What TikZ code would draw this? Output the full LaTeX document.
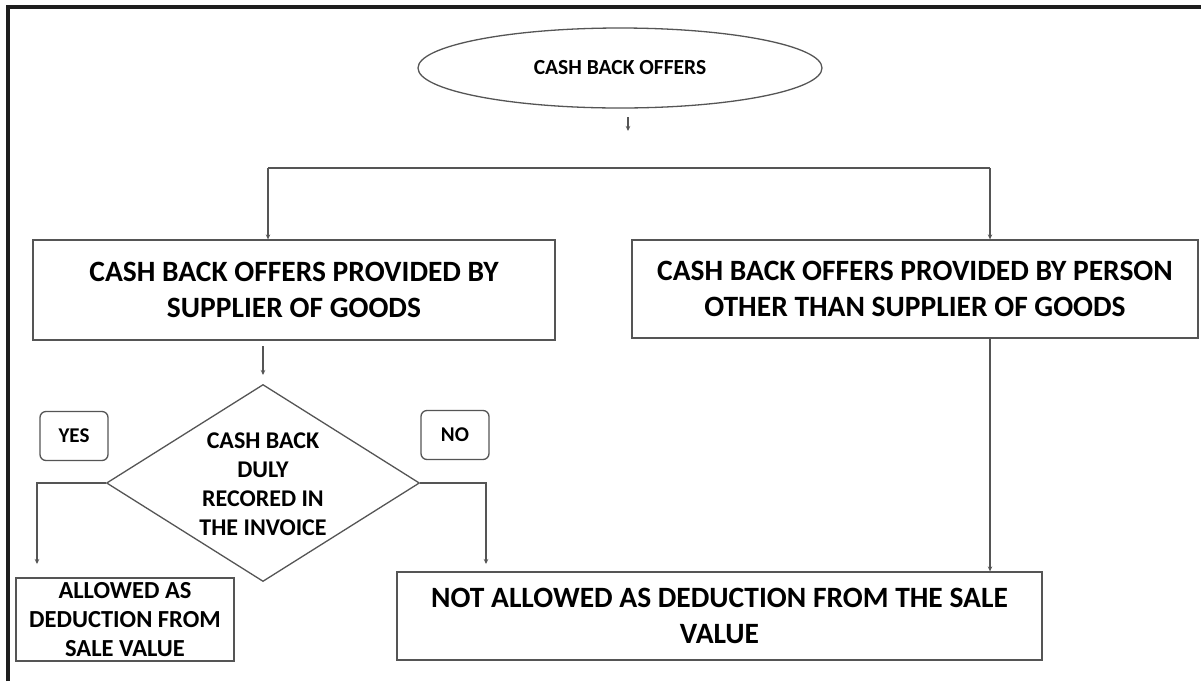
\documentclass[tikz,border=0pt]{standalone}
\usepackage{fontspec}
\setmainfont{Carlito}
\usetikzlibrary{shapes.geometric,arrows.meta}
\definecolor{ln}{HTML}{555555}
\definecolor{fr}{HTML}{1E1E1E}
\begin{document}
\begin{tikzpicture}[x=1pt,y=-1pt,
  boxnode/.style={draw=ln, line width=1.3pt, rectangle, inner sep=0pt, align=center, text=black},
  bigtext/.style={font=\bfseries\fontsize{29.5}{36}\selectfont},
  midtext/.style={font=\bfseries\fontsize{24}{29}\selectfont},
  tagbox/.style={draw=ln, line width=1.3pt, rounded corners=6pt, inner sep=0pt, minimum width=68pt, minimum height=49pt, font=\bfseries\fontsize{21}{24}\selectfont},
  conn/.style={draw=ln, line width=1.3pt},
  arr/.style={conn, -{Stealth[length=5pt,width=4.5pt]}}
]
\useasboundingbox (0,0) rectangle (1201,681);
\fill[white] (0,0) rectangle (1201,681);
% frame
\draw[fr, line width=4pt] (8,681) -- (8,7) -- (1201,7);

% nodes
\node[draw=ln, line width=1.3pt, ellipse, minimum width=404pt, minimum height=80pt, inner sep=0pt,
      font=\bfseries\fontsize{21.5}{24}\selectfont] (top) at (620,68) {CASH BACK OFFERS};
\node[boxnode, bigtext, minimum width=522pt, minimum height=100pt] (lbox) at (294,290)
  {CASH BACK OFFERS PROVIDED BY\\SUPPLIER OF GOODS};
\node[boxnode, bigtext, minimum width=566pt, minimum height=98pt] (rbox) at (915,289)
  {CASH BACK OFFERS PROVIDED BY PERSON\\OTHER THAN SUPPLIER OF GOODS};
\node[draw=ln, line width=1.3pt, diamond, aspect=1.59, minimum width=313pt, minimum height=197pt, inner sep=0pt] (dia) at (263,483) {};
\node[midtext, align=center, inner sep=0pt] (dtext) at (263,484) {CASH BACK\\DULY\\RECORED IN\\THE INVOICE};
\node[tagbox] (yes) at (74,436) {YES};
\node[tagbox] (no) at (455,435) {NO};
\node[boxnode, font=\bfseries\fontsize{24.5}{29}\selectfont, minimum width=218pt, minimum height=83pt] (allow) at (125,619.5)
  {ALLOWED AS\\DEDUCTION FROM\\SALE VALUE};
\node[boxnode, bigtext, minimum width=645pt, minimum height=88pt] (notallow) at (719.5,616)
  {NOT ALLOWED AS DEDUCTION FROM THE SALE\\VALUE};

% connector points
\coordinate (t1) at (628,117);
\coordinate (t2) at (628,131);
\coordinate (hl) at (268,168);
\coordinate (hr) at (990,168);
\coordinate (l1) at (263,346);
\coordinate (l2) at (263,375);
\coordinate (ya) at (37,564);
\coordinate (na) at (486,564);

% connectors
\draw[arr] (t1) -- (t2);
\draw[conn] (hl) -- (hr);
\draw[arr] (hl) -- (hl |- lbox.north);
\draw[arr] (hr) -- (hr |- rbox.north);
\draw[arr] (l1) -- (l2);
\draw[arr] (dia.west) -| (ya);
\draw[arr] (dia.east) -| (na);
\draw[arr] (rbox.south -| hr) -- (notallow.north -| hr);
\end{tikzpicture}
\end{document}
